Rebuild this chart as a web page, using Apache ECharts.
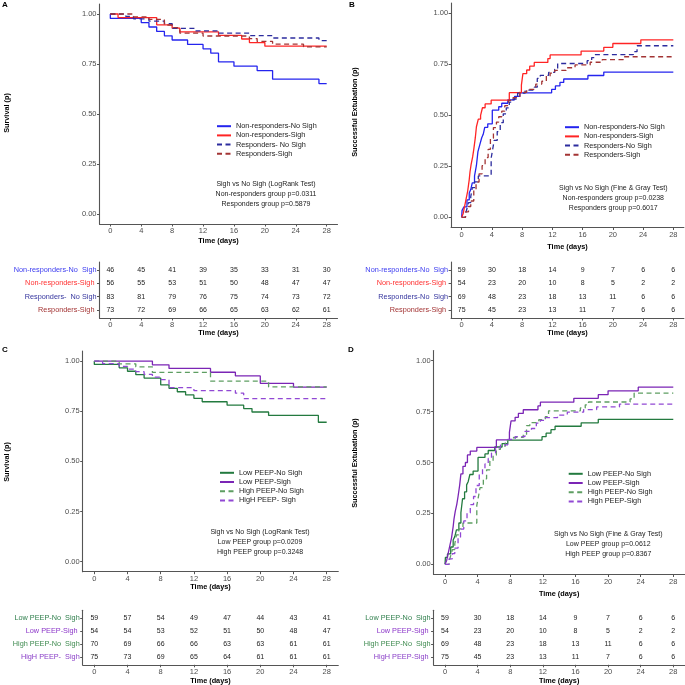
<!DOCTYPE html>
<html><head><meta charset="utf-8">
<script src="https://cdn.jsdelivr.net/npm/echarts@6.0.0/dist/echarts.min.js"></script>
<style>html,body{margin:0;padding:0;background:#fff}#c{width:685px;height:685px}</style>
</head><body><div id="c"></div>
<script>
const FONT = '"Liberation Sans", Arial, sans-serif';

// ---------- shared ticks ----------
const timeTicks = [0, 4, 8, 12, 16, 20, 24, 28];
const probTicks = [0, 0.25, 0.5, 0.75, 1];
const riskTimes = [0, 4, 8, 12, 16, 20, 24, 28];

// ---------- Panel A : survival, responders ----------
const namesA = ['Non-responders-No Sigh', 'Non-responders-Sigh', 'Responders- No Sigh', 'Responders-Sigh'];
const tableLabelsA = ['Non-responders-No  Sigh', 'Non-responders-Sigh ', 'Responders-  No Sigh', 'Responders-Sigh '];
const survA_nrNoSigh = [[0,1],[0,0.978],[4,0.957],[5,0.935],[6,0.913],[7,0.891],[8,0.870],[10,0.848],[12,0.826],[13,0.804],[14,0.761],[16,0.739],[19,0.717],[21,0.674],[27,0.652],[28,0.652]];
const survA_nrSigh = [[0,1],[1,0.982],[6,0.946],[8,0.929],[9,0.911],[14,0.893],[17,0.875],[18,0.857],[20,0.839],[28,0.839]];
const survA_rNoSigh = [[0,1],[2,0.988],[3,0.976],[5,0.964],[7,0.952],[8,0.928],[11,0.916],[14,0.904],[18,0.892],[21,0.880],[27,0.867],[28,0.867]];
const survA_rSigh = [[0,1],[3,0.986],[5,0.973],[7,0.945],[8,0.932],[9,0.904],[12,0.890],[18,0.877],[19,0.863],[21,0.849],[25,0.836],[28,0.836]];
const riskA_nrNoSigh = [46,45,41,39,35,33,31,30];
const riskA_nrSigh = [56,55,53,51,50,48,47,47];
const riskA_rNoSigh = [83,81,79,76,75,74,73,72];
const riskA_rSigh = [73,72,69,66,65,63,62,61];
const annA = ['Sigh vs No Sigh (LogRank Test)', 'Non-responders group p=0.0311', 'Responders group p=0.5879'];

// ---------- Panel B : successful extubation, responders ----------
const namesB = ['Non-responders-No Sigh', 'Non-responders-Sigh', 'Responders-No Sigh', 'Responders-Sigh'];
const tableLabelsB = ['Non-responders-No  Sigh', 'Non-responders-Sigh ', 'Responders-No  Sigh', 'Responders-Sigh '];
const cifB_nrNoSigh = [[0,0],[0.05,0.034],[0.3,0.051],[0.7,0.085],[1.0,0.119],[1.2,0.136],[1.4,0.169],[1.7,0.203],[1.95,0.254],[2.15,0.322],[2.4,0.356],[2.65,0.39],[2.85,0.407],[3.05,0.441],[3.45,0.458],[4.05,0.525],[4.9,0.542],[5.3,0.559],[6.1,0.576],[7.0,0.593],[7.7,0.61],[11.9,0.627],[12.4,0.644],[13.0,0.661],[13.5,0.678],[16.7,0.695],[18.8,0.712],[28,0.712]];
const cifB_nrSigh = [[0,0],[0.2,0.019],[0.4,0.056],[0.6,0.093],[0.8,0.13],[1.0,0.185],[1.1,0.222],[1.25,0.259],[1.45,0.296],[1.6,0.333],[1.8,0.389],[1.95,0.444],[2.2,0.481],[2.5,0.5],[2.75,0.537],[3.1,0.556],[3.9,0.574],[6.3,0.611],[7.9,0.648],[8.1,0.704],[8.6,0.722],[9.0,0.741],[9.6,0.759],[11.4,0.778],[11.7,0.796],[15.8,0.815],[18.8,0.833],[20.0,0.852],[23.7,0.870],[28,0.870]];
const cifB_rNoSigh = [[0,0],[0.5,0.014],[0.7,0.043],[0.9,0.072],[1.2,0.101],[1.4,0.145],[1.7,0.174],[2.2,0.203],[3.9,0.29],[4.1,0.333],[4.3,0.377],[4.7,0.42],[5.1,0.464],[5.5,0.507],[5.9,0.536],[6.3,0.565],[6.8,0.58],[7.4,0.609],[8.4,0.623],[9.6,0.638],[10.0,0.681],[10.4,0.696],[11.5,0.71],[12.3,0.725],[12.7,0.754],[16.6,0.768],[17.2,0.783],[17.6,0.797],[22.7,0.812],[23.2,0.841],[28,0.841]];
const cifB_rSigh = [[0,0],[0.5,0.027],[0.9,0.053],[1.2,0.08],[1.6,0.133],[1.9,0.173],[2.3,0.213],[2.7,0.253],[3.1,0.293],[3.5,0.333],[3.8,0.387],[4.2,0.44],[4.6,0.467],[4.9,0.493],[5.3,0.52],[5.7,0.547],[6.2,0.573],[6.8,0.587],[7.7,0.613],[8.6,0.627],[9.8,0.653],[10.6,0.667],[11.2,0.693],[11.7,0.707],[12.3,0.72],[13.8,0.733],[15.0,0.747],[17.0,0.76],[18.6,0.773],[21.4,0.787],[28,0.787]];
const riskB_nrNoSigh = [59,30,18,14,9,7,6,6];
const riskB_nrSigh = [54,23,20,10,8,5,2,2];
const riskB_rNoSigh = [69,48,23,18,13,11,6,6];
const riskB_rSigh = [75,45,23,13,11,7,6,6];
const annB = ['Sigh vs No Sigh (Fine & Gray Test)', 'Non-responders group p=0.0238', 'Responders group p=0.6017'];

// ---------- Panel C : survival, PEEP ----------
const namesC = ['Low PEEP-No Sigh', 'Low PEEP-Sigh', 'High PEEP-No Sigh', 'HigH PEEP- Sigh'];
const tableLabelsC = ['Low PEEP-No  Sigh', 'Low PEEP-Sigh ', 'High PEEP-No  Sigh', 'HigH PEEP-  Sigh'];
const survC_lowNoSigh = [[0,1],[0,0.983],[3,0.966],[4,0.949],[5,0.932],[6,0.915],[8,0.881],[9,0.864],[10,0.847],[11,0.831],[12,0.814],[13,0.797],[16,0.780],[18,0.763],[19,0.746],[21,0.729],[27,0.695],[28,0.695]];
const survC_lowSigh = [[0,1],[7,0.981],[9,0.963],[14,0.944],[17,0.926],[20,0.889],[24,0.870],[28,0.870]];
const survC_highNoSigh = [[0,1],[3,0.986],[5,0.971],[7,0.943],[14,0.900],[21,0.871],[28,0.871]];
const survC_highSigh = [[0,1],[1,0.987],[3,0.973],[4,0.960],[5,0.947],[6,0.933],[7,0.920],[8,0.907],[9,0.867],[12,0.853],[17,0.840],[18,0.813],[28,0.813]];
const riskC_lowNoSigh = [59,57,54,49,47,44,43,41];
const riskC_lowSigh = [54,54,53,52,51,50,48,47];
const riskC_highNoSigh = [70,69,66,66,63,63,61,61];
const riskC_highSigh = [75,73,69,65,64,61,61,61];
const annC = ['Sigh vs No Sigh (LogRank Test)', 'Low PEEP group p=0.0209', 'High PEEP group p=0.3248'];

// ---------- Panel D : successful extubation, PEEP (same curves as B in the figure) ----------
const namesD = ['Low PEEP-No Sigh', 'Low PEEP-Sigh', 'High PEEP-No Sigh', 'High PEEP-Sigh'];
const tableLabelsD = ['Low PEEP-No  Sigh', 'Low PEEP-Sigh ', 'High PEEP-No  Sigh', 'HigH PEEP-Sigh '];
const cifD_lowNoSigh = cifB_nrNoSigh;
const cifD_lowSigh = cifB_nrSigh;
const cifD_highNoSigh = cifB_rNoSigh;
const cifD_highSigh = cifB_rSigh;
const riskD_lowNoSigh = [59,30,18,14,9,7,6,6];
const riskD_lowSigh = [54,23,20,10,8,5,2,2];
const riskD_highNoSigh = [69,48,23,18,13,11,6,6];
const riskD_highSigh = [75,45,23,13,11,7,6,6];
const annD = ['Sigh vs No Sigh (Fine & Gray Test)', 'Low PEEP group p=0.0612', 'High PEEP group p=0.8367'];

// ---------- styles ----------
const styleAB = [
  {color:'#2424EE', dash:false}, {color:'#FF2424', dash:false},
  {color:'#2C2C9E', dash:true}, {color:'#A33434', dash:true}];
const styleCD = [
  {color:'#237A3F', dash:false}, {color:'#7B25B5', dash:false},
  {color:'#5E9E62', dash:true}, {color:'#9148D4', dash:true}];
const labelColorsAB = ['#3B3BF0', '#FF3030', '#35359E', '#A33434'];
const labelColorsCD = ['#2F7F4C', '#8B35C8', '#3F8B50', '#8B40C8'];

const panels = [
  {letter:'A', names:namesA, tableLabels:tableLabelsA, curves:[survA_nrNoSigh,survA_nrSigh,survA_rNoSigh,survA_rSigh],
   risk:[riskA_nrNoSigh,riskA_nrSigh,riskA_rNoSigh,riskA_rSigh], ann:annA, ytitle:'Survival (p)', styles:styleAB, lcol:labelColorsAB,
   plot:[99.5,4,238,220], table:[99.5,262,238,56], yT:[7,113], xT:241, tT:333, leg:[216,126.7], annPos:[266,184.3], let:[2,1]},
  {letter:'B', names:namesB, tableLabels:tableLabelsB, curves:[cifB_nrNoSigh,cifB_nrSigh,cifB_rNoSigh,cifB_rSigh],
   risk:[riskB_nrNoSigh,riskB_nrSigh,riskB_rNoSigh,riskB_rSigh], ann:annB, ytitle:'Successful Extubation (p)', styles:styleAB, lcol:labelColorsAB,
   plot:[451.1,3.1,232.8,224.4], table:[451.1,262,232.8,56], yT:[355,112], xT:247, tT:333, leg:[564,127.7], annPos:[613.3,187.7], let:[349,1]},
  {letter:'C', names:namesC, tableLabels:tableLabelsC, curves:[survC_lowNoSigh,survC_lowSigh,survC_highNoSigh,survC_highSigh],
   risk:[riskC_lowNoSigh,riskC_lowSigh,riskC_highNoSigh,riskC_highSigh], ann:annC, ytitle:'Survival (p)', styles:styleCD, lcol:labelColorsCD,
   plot:[82.7,351,255.6,220.7], table:[82.7,610.2,255.6,54.6], yT:[7,462], xT:587, tT:681, leg:[219,473.3], annPos:[260,532.3], let:[2,346]},
  {letter:'D', names:namesD, tableLabels:tableLabelsD, curves:[cifD_lowNoSigh,cifD_lowSigh,cifD_highNoSigh,cifD_highSigh],
   risk:[riskD_lowNoSigh,riskD_lowSigh,riskD_highNoSigh,riskD_highSigh], ann:annD, ytitle:'Successful Extubation (p)', styles:styleCD, lcol:labelColorsCD,
   plot:[433.6,350.5,251.1,224], table:[433.6,610.2,251.1,54.6], yT:[355,463], xT:594, tT:681, leg:[567.7,474.3], annPos:[608.3,534], let:[348,346]}
];

const AX = '#555';
const grids = [], xAxes = [], yAxes = [], series = [], legends = [], graphics = [];

function txt(x, y, text, opt) {
  return Object.assign({type:'text', x:x, y:y, silent:true,
    style:Object.assign({text:text, fontFamily:FONT, fontSize:7, fill:'#111', align:'center', verticalAlign:'middle'}, opt && opt.style || {})},
    opt && opt.rot ? {rotation:opt.rot} : {});
}

panels.forEach((p, i) => {
  const gP = grids.length;
  grids.push({left:p.plot[0], top:p.plot[1], width:p.plot[2], height:p.plot[3], containLabel:false});
  const gT = grids.length;
  grids.push({left:p.table[0], top:p.table[1], width:p.table[2], height:p.table[3], containLabel:false});

  const xBase = (g) => ({gridIndex:g, type:'value', min:-1.4, max:29.4,
    axisLine:{show:true, onZero:false, lineStyle:{color:AX, width:1.1}},
    axisTick:{show:true, customValues:timeTicks, length:2.5, lineStyle:{color:AX, width:1}},
    axisLabel:{customValues:timeTicks, margin:3, fontSize:7.5, color:'#4d4d4d', fontFamily:FONT},
    splitLine:{show:false}});
  xAxes.push(xBase(gP));
  xAxes.push(xBase(gT));

  yAxes.push({gridIndex:gP, type:'value', min:-0.05, max:1.05,
    axisLine:{show:true, onZero:false, lineStyle:{color:AX, width:1.1}},
    axisTick:{show:true, customValues:probTicks, length:2.5, lineStyle:{color:AX, width:1}},
    axisLabel:{customValues:probTicks, margin:3, fontSize:7.5, color:'#4d4d4d', fontFamily:FONT, formatter:v => Number(v).toFixed(2)},
    splitLine:{show:false}});
  const lbls = p.tableLabels, cols = p.lcol;
  yAxes.push({gridIndex:gT, type:'value', min:0.4, max:4.6,
    axisLine:{show:true, onZero:false, lineStyle:{color:AX, width:1.1}},
    axisTick:{show:true, customValues:[1,2,3,4], length:2.5, lineStyle:{color:AX, width:1}},
    axisLabel:{customValues:[1,2,3,4], margin:3, fontSize:7.3, fontFamily:FONT,
      formatter:v => lbls[4 - Number(v)], color:v => cols[4 - Number(v)]},
    splitLine:{show:false}});

  p.curves.forEach((d, k) => {
    const st = p.styles[k];
    series.push({type:'line', name:p.names[k], xAxisIndex:gP, yAxisIndex:gP, data:d, step:'end',
      symbol:'none', showSymbol:false, animation:false, silent:true,
      lineStyle:{color:st.color, width:1.3, type:st.dash ? [5, 3.5] : 'solid'}, itemStyle:{color:st.color}});
  });

  const tableData = [];
  p.risk.forEach((r, k) => r.forEach((v, j) => tableData.push([riskTimes[j], 4 - k, v])));
  series.push({type:'custom', xAxisIndex:gT, yAxisIndex:gT, data:tableData, silent:true, animation:false,
    renderItem:(params, api) => {
      const pt = api.coord([api.value(0), api.value(1)]);
      return {type:'text', x:pt[0], y:pt[1], style:{text:String(api.value(2)), fontSize:7, fontFamily:FONT, fill:'#222', align:'center', verticalAlign:'middle'}};
    }});

  legends.push({data:p.names.slice(), orient:'vertical', left:p.leg[0], top:p.leg[1] - 4,
    itemWidth:14, itemHeight:8, itemGap:2.2, selectedMode:false, padding:0,
    itemStyle:{opacity:0, borderWidth:0},
    textStyle:{fontSize:7.3, color:'#222', fontFamily:FONT}});

  // titles & annotations
  graphics.push(txt(p.let[0], p.let[1] + 4, p.letter, {style:{fontSize:8, fontWeight:'bold', align:'left', fill:'#000'}}));
  graphics.push(txt(p.yT[0], p.yT[1], p.ytitle, {rot:Math.PI / 2, style:{fontSize:7.3, fontWeight:'bold', fill:'#000'}}));
  const cx = p.plot[0] + p.plot[2] / 2;
  graphics.push(txt(cx, p.xT, 'Time (days)', {style:{fontSize:7.3, fontWeight:'bold', fill:'#000'}}));
  graphics.push(txt(cx, p.tT, 'Time (days)', {style:{fontSize:7.3, fontWeight:'bold', fill:'#000'}}));
  p.ann.forEach((line, k) => graphics.push(txt(p.annPos[0], p.annPos[1] + k * 10, line, {style:{fontSize:7, fill:'#222'}})));
});

const chart = echarts.init(document.getElementById('c'), null, {renderer:'canvas'});
chart.setOption({
  animation:false, backgroundColor:'#fff',
  grid:grids, xAxis:xAxes, yAxis:yAxes, series:series, legend:legends, graphic:graphics
});
</script></body></html>
